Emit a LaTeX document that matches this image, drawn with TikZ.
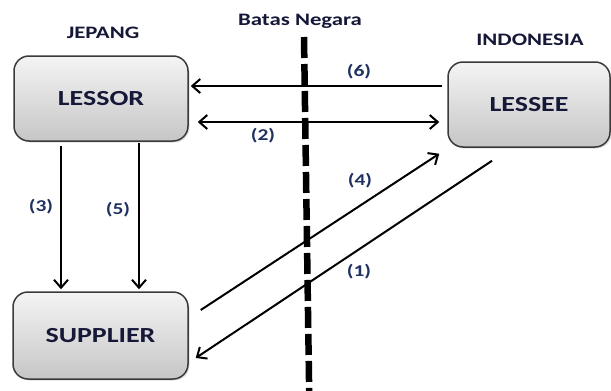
\documentclass[tikz,border=0pt]{standalone}
\usepackage{fontspec}
\setmainfont{Carlito}[FakeStretch=1.3]
\usetikzlibrary{arrows.meta,shadows,calc}
\definecolor{boxtext}{HTML}{161838}
\definecolor{labeltext}{HTML}{1F3160}
\definecolor{boxline}{HTML}{3A3A3A}
\definecolor{boxtop}{HTML}{F4F4F4}
\definecolor{boxbottom}{HTML}{C6C6C6}
\tikzset{
  party/.style={rectangle, rounded corners=15pt, draw=boxline, line width=1.5pt,
    top color=boxtop, bottom color=boxbottom,
    drop shadow={shadow xshift=1.5pt, shadow yshift=-1.5pt, opacity=0.25},
    font=\bfseries\fontsize{21.5}{23}\selectfont, text=boxtext, inner sep=0pt},
  region/.style={font=\bfseries\fontsize{17.5}{19}\selectfont, text=boxtext},
  steplabel/.style={font=\bfseries\fontsize{16.5}{18}\selectfont, text=labeltext},
  flow/.style={line width=2pt, -{Straight Barb[length=8pt,width=14pt,line width=2pt]}},
  flowboth/.style={line width=2pt, {Straight Barb[length=8pt,width=14pt,line width=2pt]}-{Straight Barb[length=8pt,width=14pt,line width=2pt]}},
  border/.style={line width=6.5pt, dash pattern=on 21pt off 6pt}
}
\begin{document}
\begin{tikzpicture}[x=1pt,y=-1pt]
  \useasboundingbox (0,0) rectangle (611,391);

  % the three parties
  \node[party, minimum width=174pt, minimum height=85pt] (lessor) at (101,98.5) {LESSOR};
  \node[party, minimum width=162pt, minimum height=85pt] (lessee) at (529,104.5) {LESSEE};
  \node[party, minimum width=175pt, minimum height=87pt] (supplier) at (100.5,335.5) {SUPPLIER};

  % country headings and the border between them
  \node[region] (jp) at (103,33) {JEPANG};
  \node[region] (id) at (530,40) {INDONESIA};
  \node[region] (batas) at (300,21) {Batas Negara};
  \coordinate (btop) at (304,37);
  \coordinate (bbot) at (309.3,400);
  \draw[border] (btop) -- (bbot);

  % flows between the parties
  \draw[flow, shorten <=5pt, shorten >=2pt] (lessee.west |- 0,86) -- (lessor.east |- 0,86);
  \draw[flowboth, shorten <=9pt, shorten >=8pt] (lessor.east |- 0,122) -- (lessee.west |- 0,122);
  \draw[flow, shorten <=4pt, shorten >=2pt] (lessor.south -| 61,0) -- (supplier.north -| 61,0);
  \draw[flow, shorten <=1pt, shorten >=2pt] (lessor.south -| 139,0) -- (supplier.north -| 139,0);
  \draw[flow] ($(supplier.east)+(12,-25.5)$) -- ($(lessee.south west)+(-8,6)$);
  \draw[flow] ($(lessee.south)+(-37,13)$) -- ($(supplier.east)+(7,22.5)$);

  % step numbers
  \node[steplabel] (n6) at (359,72) {(6)};
  \node[steplabel] (n2) at (263,136) {(2)};
  \node[steplabel] (n3) at (41,207) {(3)};
  \node[steplabel] (n5) at (118,210) {(5)};
  \node[steplabel] (n4) at (360,181) {(4)};
  \node[steplabel] (n1) at (359,272) {(1)};
\end{tikzpicture}
\end{document}
